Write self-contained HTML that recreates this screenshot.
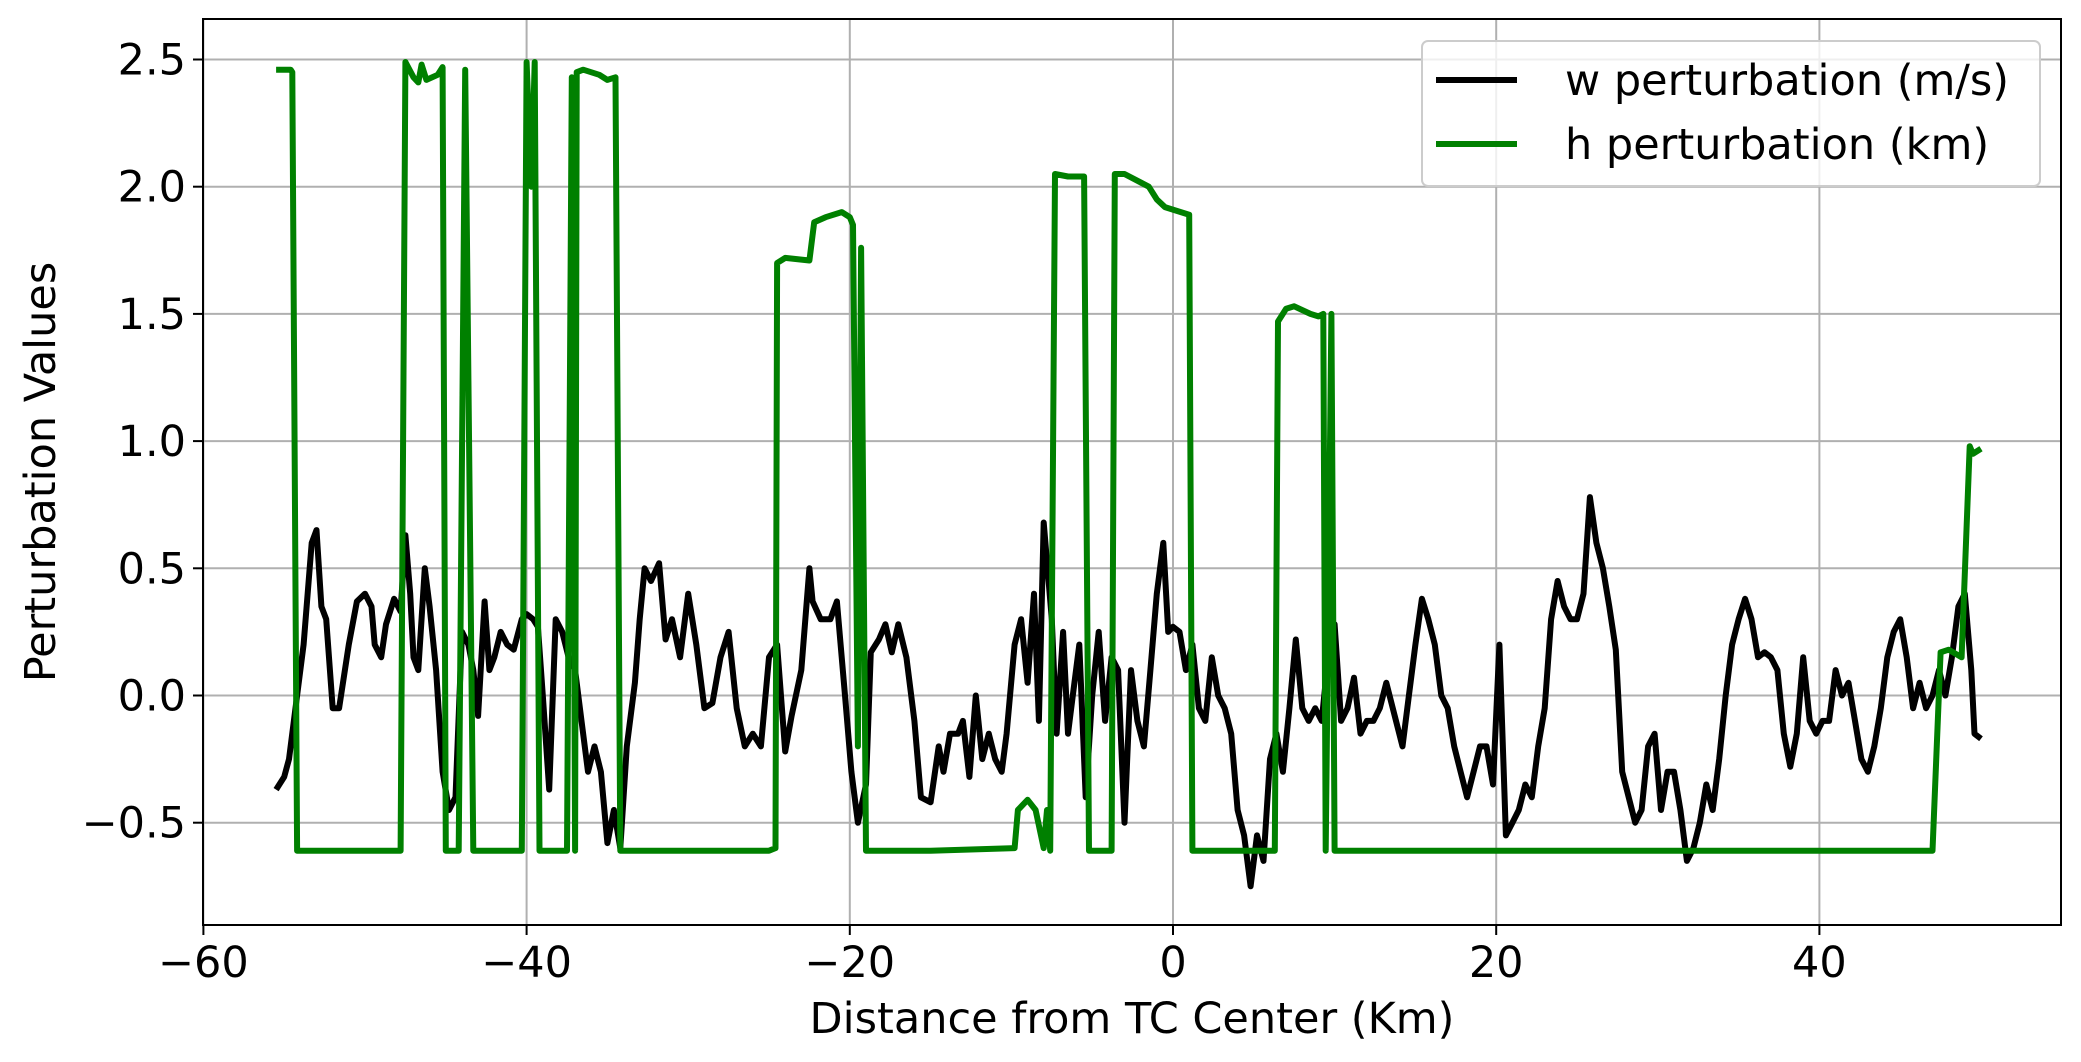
<!DOCTYPE html>
<html><head><meta charset="utf-8"><style>
html,body{margin:0;padding:0;background:#fff;}
svg{display:block;font-family:"DejaVu Sans","Liberation Sans",sans-serif;}
</style></head><body>
<svg id="chart" width="2081" height="1062"></svg>
<script>
const xTicks=[-60,-40,-20,0,20,40];
const yTicks=[-0.5,0.0,0.5,1.0,1.5,2.0,2.5];
const yTickLabels=["\u22120.5","0.0","0.5","1.0","1.5","2.0","2.5"];
const xTickLabels=["\u221260","\u221240","\u221220","0","20","40"];
const wX=[-55.5,-55,-54.7,-54.2,-53.8,-53.3,-53,-52.7,-52.4,-52,-51.6,-51,-50.5,-50,-49.6,-49.4,-49,-48.7,-48.2,-47.8,-47.5,-47.2,-47,-46.7,-46.3,-46,-45.6,-45.2,-44.8,-44.4,-44,-43.6,-43.3,-43,-42.6,-42.3,-42,-41.6,-41.2,-40.8,-40.3,-40,-39.6,-39.3,-39,-38.6,-38.2,-37.8,-37.4,-37,-36.6,-36.2,-35.8,-35.4,-35,-34.6,-34.2,-33.8,-33.3,-33,-32.7,-32.3,-31.8,-31.4,-31,-30.5,-30,-29.5,-29,-28.5,-28,-27.5,-27,-26.5,-26,-25.5,-25,-24.5,-24,-23.6,-23,-22.5,-22.3,-21.8,-21.2,-20.8,-20.3,-19.9,-19.5,-19,-18.7,-18.2,-17.8,-17.4,-17,-16.5,-16,-15.6,-15,-14.5,-14.2,-13.8,-13.3,-13,-12.6,-12.2,-11.8,-11.4,-11,-10.6,-10.3,-9.8,-9.4,-9,-8.6,-8.3,-8,-7.5,-7.2,-6.8,-6.5,-6.2,-5.8,-5.4,-5,-4.6,-4.2,-3.8,-3.4,-3,-2.6,-2.2,-1.8,-1.4,-1,-0.6,-0.3,0,0.4,0.8,1.2,1.6,2,2.4,2.8,3.2,3.6,4,4.4,4.8,5.2,5.6,6,6.4,6.8,7.2,7.6,8,8.4,8.8,9.2,9.6,10,10.4,10.8,11.2,11.6,12,12.4,12.8,13.2,13.8,14.2,14.6,15,15.4,15.8,16.2,16.6,17,17.4,17.8,18.2,18.6,19,19.4,19.8,20.2,20.6,21,21.4,21.8,22.2,22.6,23,23.4,23.8,24.2,24.6,25,25.4,25.8,26.2,26.6,27,27.4,27.8,28.2,28.6,29,29.4,29.8,30.2,30.6,31,31.4,31.8,32.2,32.6,33,33.4,33.8,34.2,34.6,35,35.4,35.8,36.2,36.6,37,37.4,37.8,38.2,38.6,39,39.4,39.8,40.2,40.6,41,41.4,41.8,42.2,42.6,43,43.4,43.8,44.2,44.6,45,45.4,45.8,46.2,46.6,47,47.4,47.8,48.2,48.6,49,49.4,49.6,50];
const wY=[-0.37,-0.32,-0.25,0.0,0.2,0.6,0.65,0.35,0.3,-0.05,-0.05,0.2,0.37,0.4,0.35,0.2,0.15,0.28,0.38,0.33,0.63,0.4,0.15,0.1,0.5,0.35,0.1,-0.3,-0.45,-0.4,0.25,0.2,0.1,-0.08,0.37,0.1,0.15,0.25,0.2,0.18,0.3,0.32,0.3,0.27,0.0,-0.37,0.3,0.25,0.15,0.1,-0.1,-0.3,-0.2,-0.3,-0.58,-0.45,-0.6,-0.2,0.05,0.3,0.5,0.45,0.52,0.22,0.3,0.15,0.4,0.2,-0.05,-0.03,0.15,0.25,-0.05,-0.2,-0.15,-0.2,0.15,0.2,-0.22,-0.08,0.1,0.5,0.37,0.3,0.3,0.37,0.0,-0.3,-0.5,-0.35,0.17,0.22,0.28,0.17,0.28,0.15,-0.1,-0.4,-0.42,-0.2,-0.3,-0.15,-0.15,-0.1,-0.32,0.0,-0.25,-0.15,-0.25,-0.3,-0.15,0.2,0.3,0.05,0.4,-0.1,0.68,0.3,-0.15,0.25,-0.15,0.0,0.2,-0.4,0.0,0.25,-0.1,0.15,0.1,-0.5,0.1,-0.1,-0.2,0.1,0.4,0.6,0.25,0.27,0.25,0.1,0.2,-0.05,-0.1,0.15,0.0,-0.05,-0.15,-0.45,-0.55,-0.75,-0.55,-0.65,-0.25,-0.15,-0.3,-0.05,0.22,-0.05,-0.1,-0.05,-0.1,0.15,0.28,-0.1,-0.05,0.07,-0.15,-0.1,-0.1,-0.05,0.05,-0.1,-0.2,0.0,0.2,0.38,0.3,0.2,0.0,-0.05,-0.2,-0.3,-0.4,-0.3,-0.2,-0.2,-0.35,0.2,-0.55,-0.5,-0.45,-0.35,-0.4,-0.2,-0.05,0.3,0.45,0.35,0.3,0.3,0.4,0.78,0.6,0.5,0.35,0.18,-0.3,-0.4,-0.5,-0.45,-0.2,-0.15,-0.45,-0.3,-0.3,-0.45,-0.65,-0.6,-0.5,-0.35,-0.45,-0.25,0.0,0.2,0.3,0.38,0.3,0.15,0.17,0.15,0.1,-0.15,-0.28,-0.15,0.15,-0.1,-0.15,-0.1,-0.1,0.1,0.0,0.05,-0.1,-0.25,-0.3,-0.2,-0.05,0.15,0.25,0.3,0.15,-0.05,0.05,-0.05,0.0,0.1,0.0,0.15,0.35,0.4,0.1,-0.15,-0.17];
const hX=[-55.5,-54.6,-54.5,-54.2,-47.8,-47.5,-47.0,-46.7,-46.5,-46.2,-45.5,-45.2,-45.0,-44.2,-43.8,-43.3,-40.3,-40.0,-39.7,-39.5,-39.2,-37.5,-37.2,-37.0,-36.9,-36.5,-35.5,-35,-34.5,-34.2,-25,-24.6,-24.5,-24,-22.5,-22.2,-21.5,-20.5,-20,-19.8,-19.5,-19.3,-19,-15,-9.8,-9.6,-9,-8.5,-8,-7.8,-7.6,-7.3,-6.5,-5.5,-5.2,-3.8,-3.6,-3,-1.5,-1,-0.5,1,1.2,6.3,6.5,7,7.5,8.5,9,9.3,9.45,9.8,10.0,47,47.5,48,48.8,49.3,49.5,50];
const hY=[2.46,2.46,2.45,-0.61,-0.61,2.49,2.43,2.41,2.48,2.42,2.44,2.47,-0.61,-0.61,2.46,-0.61,-0.61,2.49,2.0,2.49,-0.61,-0.61,2.43,-0.61,2.45,2.46,2.44,2.42,2.43,-0.61,-0.61,-0.6,1.70,1.72,1.71,1.86,1.88,1.9,1.88,1.85,-0.2,1.76,-0.61,-0.61,-0.6,-0.45,-0.41,-0.45,-0.6,-0.45,-0.61,2.05,2.04,2.04,-0.61,-0.61,2.05,2.05,2.0,1.95,1.92,1.89,-0.61,-0.61,1.47,1.52,1.53,1.5,1.49,1.5,-0.61,1.5,-0.61,-0.61,0.17,0.18,0.15,0.98,0.95,0.97];

const L=203,R=2061,T=19,B=925;
const X0=1173,XS=16.16,Y0=695.5,YS=254.4;
const sx=v=>X0+v*XS, sy=v=>Y0-v*YS;
const NS="http://www.w3.org/2000/svg";
const svg=document.getElementById('chart');
function mk(tag,attrs,parent){const e=document.createElementNS(NS,tag);for(const k in attrs)e.setAttribute(k,attrs[k]);(parent||svg).appendChild(e);return e;}
const FS=43;
const grid=mk('g',{});


xTicks.forEach((v,i)=>{
  const x=sx(v);
  const gl=mk('line',{x1:x,x2:x,y1:T,y2:B,stroke:'#b0b0b0','stroke-width':2},grid);
  
  
  const tk=mk('line',{x1:x,x2:x,y1:B,y2:B+10,stroke:'#000','stroke-width':2});
  
  
  const t=mk('text',{x:x,y:B+52,'text-anchor':'middle','font-size':FS,fill:'#000'});
  t.textContent=xTickLabels[i];
  
  
});
yTicks.forEach((v,i)=>{
  const y=sy(v);
  const gl=mk('line',{x1:L,x2:R,y1:y,y2:y,stroke:'#b0b0b0','stroke-width':2},grid);
  
  
  const tk=mk('line',{x1:L-10,x2:L,y1:y,y2:y,stroke:'#000','stroke-width':2});
  
  
  const t=mk('text',{x:L-17,y:y+15,'text-anchor':'end','font-size':FS,fill:'#000'});
  t.textContent=yTickLabels[i];
  
  
});
function pts(xs,ys){return xs.map((v,i)=>sx(v).toFixed(1)+','+sy(ys[i]).toFixed(1)).join(' ');}
const lw=mk('polyline',{points:pts(wX,wY),fill:'none',stroke:'#000','stroke-width':6,'stroke-linejoin':'round'});


const lh=mk('polyline',{points:pts(hX,hY),fill:'none',stroke:'#008000','stroke-width':6,'stroke-linejoin':'round'});


const fr=mk('rect',{x:L,y:T,width:R-L,height:B-T,fill:'none',stroke:'#000','stroke-width':2});



const xl=mk('text',{x:(L+R)/2,y:1033,'text-anchor':'middle','font-size':FS,fill:'#000'});
xl.textContent='Distance from TC Center (Km)';


const yl=mk('text',{x:0,y:0,'text-anchor':'middle','font-size':FS,fill:'#000',transform:'translate(55,472) rotate(-90)'});
yl.textContent='Perturbation Values';



const lg=mk('g',{});


mk('rect',{x:1422,y:41,width:618,height:145,rx:6,fill:'#fff','fill-opacity':0.8,stroke:'#ccc','stroke-width':2},lg);
const names=['w perturbation (m/s)','h perturbation (km)'],cols=['#000','#008000'];
names.forEach((n,i)=>{
  const y=80+i*64;
  const ln=mk('line',{x1:1436,x2:1517,y1:y,y2:y,stroke:cols[i],'stroke-width':6},lg);
  
  
  const t=mk('text',{x:1565,y:y+15,'font-size':FS,fill:'#000'},lg);
  t.textContent=n;
  
  
});
</script>
</body></html>
